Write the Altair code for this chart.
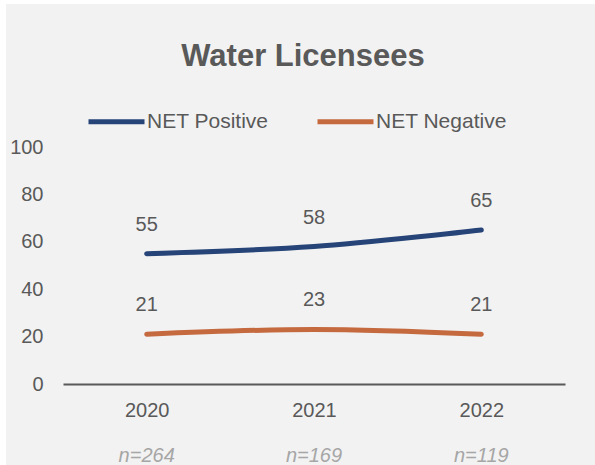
import altair as alt
import pandas as pd

years = ["2020", "2021", "2022"]
net_positive = [55, 58, 65]
net_negative = [21, 23, 21]
n_labels = ["n=264", "n=169", "n=119"]
series_names = ["NET Positive", "NET Negative"]
series_colors = ["#264478", "#c5693f"]

rows = []
for y, p, q in zip(years, net_positive, net_negative):
    rows.append({"year": y, "series": series_names[0], "value": p})
    rows.append({"year": y, "series": series_names[1], "value": q})
df = pd.DataFrame(rows)
n_df = pd.DataFrame({"year": years, "n": n_labels})

W, H = 502, 237
PAD_L, PAD_T = 63, 147
GRAY = "#595959"

x_enc = alt.X("year:N", sort=years,
              scale=alt.Scale(type="point", padding=0.5),
              axis=alt.Axis(title=None, labelAngle=0, labelFontSize=20, labelColor=GRAY,
                            labelFont="Liberation Sans", domainColor=GRAY, domainWidth=2,
                            ticks=False, labelPadding=16, zindex=1))
y_enc = alt.Y("value:Q", scale=alt.Scale(domain=[0, 100]),
              axis=alt.Axis(title=None, values=[0, 20, 40, 60, 80, 100], grid=False,
                            domain=False, ticks=False, tickSize=0, labelFontSize=20,
                            labelColor=GRAY, labelFont="Liberation Sans", labelPadding=20,
                            zindex=1))

bg = alt.Chart(pd.DataFrame({"a": [0]})).mark_rect(color="#f2f2f2").encode(
    x=alt.value(6 - PAD_L), x2=alt.value(595 - PAD_L),
    y=alt.value(4 - PAD_T), y2=alt.value(465 - PAD_T))

lines = alt.Chart(df).mark_line(strokeWidth=5, strokeCap="round", interpolate="catmull-rom").encode(
    x=x_enc, y=y_enc,
    color=alt.Color("series:N", sort=series_names,
                    scale=alt.Scale(domain=series_names, range=series_colors),
                    legend=alt.Legend(title=None, orient="none", direction="horizontal",
                                      legendX=23, legendY=-56, symbolType="stroke",
                                      symbolSize=3136, symbolStrokeWidth=5,
                                      labelFontSize=21, labelColor=GRAY,
                                      labelFont="Liberation Sans", labelOffset=0,
                                      columnPadding=38)))

labels = alt.Chart(df).mark_text(fontSize=20, color=GRAY, font="Liberation Sans",
                                 dy=-29, baseline="middle").encode(
    x=alt.X("year:N", sort=years), y="value:Q", text="value:Q")

nlab = alt.Chart(n_df).mark_text(fontSize=20, color="#a6a6a6", font="Liberation Sans",
                                 fontStyle="italic", baseline="middle").encode(
    x=alt.X("year:N", sort=years), y=alt.value(H + 72), text="n:N")

chart = alt.layer(bg, lines, labels, nlab).properties(
    width=W, height=H,
    title=alt.TitleParams("Water Licensees", fontSize=31, fontWeight="bold", color=GRAY,
                          font="Liberation Sans", anchor="middle", dx=-11, offset=0, dy=93,
                          baseline="alphabetic"),
    autosize=alt.AutoSizeParams(type="none"),
    padding={"left": PAD_L, "top": PAD_T, "right": 595 - PAD_L - W, "bottom": 465 - PAD_T - H},
    background="white",
).configure_view(stroke=None)

chart.save("out.html", embed_options={"renderer": "svg", "actions": False})
